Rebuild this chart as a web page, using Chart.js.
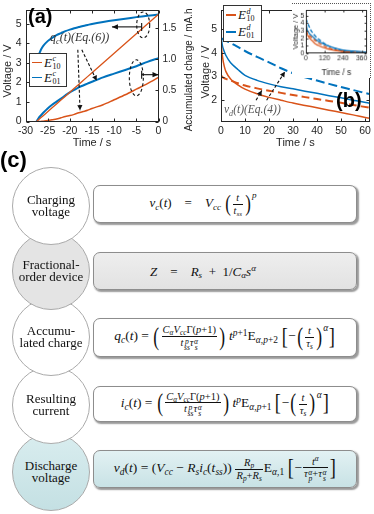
<!DOCTYPE html>
<html><head><meta charset="utf-8">
<script src="https://cdn.jsdelivr.net/npm/chart.js@4.4.1/dist/chart.umd.min.js"></script>
<style>
html,body{margin:0;padding:0;background:#fff;}
body{width:374px;height:514px;position:relative;overflow:hidden;font-family:'Liberation Sans',Arial,sans-serif;}
.abs{position:absolute;}
canvas{position:absolute;}
#ca{left:0;top:0;}
#cb{left:196px;top:0;}
#ci{left:292px;top:3px;background:#fff;border-top:1px dotted #555;border-right:1px dotted #555;box-sizing:border-box;}
.pl{font-family:'Liberation Sans',Arial,sans-serif;font-weight:bold;font-size:20px;line-height:20px;color:#000;}
.leg{border:1px solid #333;background:#fff;box-sizing:border-box;padding:1px 1px;display:flex;flex-direction:column;justify-content:space-around;}
.lrow{display:flex;align-items:center;height:14px;}
.lsw{display:inline-block;width:10px;height:1.6px;margin:0 2px 0 1px;}
.mE{font-family:'Liberation Serif',serif;font-size:13px;display:inline-flex;align-items:center;color:#111;}
.st{display:inline-flex;flex-direction:column;font-size:8px;line-height:7.5px;margin-left:0.5px;}
.ml{font-family:'Liberation Serif',serif;font-style:italic;white-space:nowrap;}
.ml sub{font-size:70%;}
.circ{position:absolute;left:12px;width:78px;height:78px;border-radius:50%;border:1px solid #aaa;box-sizing:border-box;display:flex;align-items:center;justify-content:center;text-align:center;font-family:'Liberation Serif',serif;font-size:13px;line-height:12px;color:#111;}
.box{position:absolute;left:93px;width:264px;border:1px solid #8d8d8d;border-radius:7px;box-sizing:border-box;box-shadow:1.5px 1.5px 1.5px rgba(0,0,0,0.4);display:flex;align-items:center;justify-content:center;background:#fff;}
.f{font-family:'Liberation Serif',serif;font-size:13px;white-space:nowrap;color:#111;line-height:13px;}
.f.big{font-size:13.5px;}
.f sub,.f sup{font-size:70%;line-height:0;position:relative;vertical-align:baseline;}
.f sub{top:0.3em;}
.f sup{top:-0.45em;}
.f sup.hi{top:-1em;}
.fr{display:inline-block;vertical-align:middle;text-align:center;font-size:78%;line-height:1.1;margin:0 1px;}
.fr>span{display:block;padding:0 1px;}
.fr>span:first-child{border-bottom:0.8px solid #111;}
.bp{display:inline-block;font-size:185%;line-height:0.8;vertical-align:-0.17em;transform:scaleX(0.7);font-weight:300;}
.bb{display:inline-block;font-size:170%;line-height:0.8;vertical-align:-0.14em;transform:scaleX(0.8);}
.ss{display:inline-flex;flex-direction:column;font-size:72%;line-height:0.8;vertical-align:0.3em;margin-left:0.5px;}
</style>
</head><body>
<canvas id="ca" width="196" height="152"></canvas>
<canvas id="cb" width="178" height="152"></canvas>
<canvas id="ci" width="79" height="75"></canvas>

<div class="abs pl" style="left:28px;top:6px;">(a)</div>
<div class="abs pl" style="left:336px;top:90px;">(b)</div>
<div class="abs pl" style="left:0px;top:149px;font-size:22px;line-height:22px;">(c)</div>

<div class="abs ml" style="left:50px;top:30px;font-size:12px;color:#333;">q<sub>c</sub>(t)(Eq.(6))</div>
<div class="abs ml" style="left:224px;top:103px;font-size:11.5px;color:#555;">v<sub>d</sub>(t)(Eq.(4))</div>

<div class="abs leg" style="left:29px;top:53px;width:38px;height:34px;">
 <div class="lrow"><span class="lsw" style="background:#D95319"></span><span class="mE"><i>E</i><span class="st"><i>c</i><span>10</span></span></span></div>
 <div class="lrow"><span class="lsw" style="background:#0072BD"></span><span class="mE"><i>E</i><span class="st"><i>c</i><span>01</span></span></span></div>
</div>
<div class="abs leg" style="left:223px;top:5px;width:39px;height:37px;">
 <div class="lrow"><span class="lsw" style="background:#D95319"></span><span class="mE"><i>E</i><span class="st"><i>d</i><span>10</span></span></span></div>
 <div class="lrow"><span class="lsw" style="background:#0072BD"></span><span class="mE"><i>E</i><span class="st"><i>d</i><span>01</span></span></span></div>
</div>

<!-- diagram (c) -->
<div class="circ" style="top:167px;z-index:5;background:#fff;">Charging<br>voltage</div>
<div class="circ" style="top:232px;z-index:4;background:#e4e4e4;">Fractional-<br>order device</div>
<div class="circ" style="top:298px;z-index:3;background:#fff;">Accumu-<br>lated charge</div>
<div class="circ" style="top:366px;z-index:2;background:#fff;">Resulting<br>current</div>
<div class="circ" style="top:433px;z-index:1;background:linear-gradient(#d9edef,#c4e0e3);">Discharge<br>voltage</div>

<div class="box" style="top:185px;height:38px;padding-right:44px;">
<span class="f"><i>v</i><sub><i>c</i></sub>(<i>t</i>)&emsp;=&emsp;<i>V</i><sub><i>cc</i></sub>&thinsp;<span class="bp">(</span><span class="fr"><span><i>t</i></span><span><i>t</i><sub><i>ss</i></sub></span></span><span class="bp">)</span><sup class="hi"><i>p</i></sup></span>
</div>
<div class="box" style="top:252px;height:38px;padding-right:44px;background:linear-gradient(#eeeeee,#e2e2e2);">
<span class="f"><i>Z</i>&emsp;=&emsp;<i>R</i><sub><i>s</i></sub>&ensp;+&ensp;1/<i>C</i><sub><i>α</i></sub><i>s</i><sup><i>α</i></sup></span>
</div>
<div class="box" style="top:318px;height:39px;">
<span class="f big"><i>q</i><sub><i>c</i></sub>(<i>t</i>) = <span class="bp">(</span><span class="fr"><span><i>C</i><sub><i>α</i></sub><i>V</i><sub><i>cc</i></sub>Γ(<i>p</i>+1)</span><span><i>t</i><span class="ss"><i>p</i><i>ss</i></span><i>τ</i><span class="ss"><i>α</i><i>s</i></span></span></span><span class="bp">)</span>&thinsp;<i>t</i><sup><i>p</i>+1</sup>E<sub><i>α</i>,<i>p</i>+2</sub>&thinsp;<span class="bb">[</span>−<span class="bp">(</span><span class="fr"><span><i>t</i></span><span><i>τ</i><sub><i>s</i></sub></span></span><span class="bp">)</span><sup class="hi"><i>α</i></sup><span class="bb">]</span></span>
</div>
<div class="box" style="top:386px;height:36px;">
<span class="f big"><i>i</i><sub><i>c</i></sub>(<i>t</i>) = <span class="bp">(</span><span class="fr"><span><i>C</i><sub><i>α</i></sub><i>V</i><sub><i>cc</i></sub>Γ(<i>p</i>+1)</span><span><i>t</i><span class="ss"><i>p</i><i>ss</i></span><i>τ</i><span class="ss"><i>α</i><i>s</i></span></span></span><span class="bp">)</span>&thinsp;<i>t</i><sup><i>p</i></sup>E<sub><i>α</i>,<i>p</i>+1</sub>&thinsp;<span class="bb">[</span>−<span class="bp">(</span><span class="fr"><span><i>t</i></span><span><i>τ</i><sub><i>s</i></sub></span></span><span class="bp">)</span><sup class="hi"><i>α</i></sup><span class="bb">]</span></span>
</div>
<div class="box" style="top:450px;height:38px;background:linear-gradient(#e2f1f3,#c8e2e5);">
<span class="f big"><i>v</i><sub><i>d</i></sub>(<i>t</i>) = (<i>V</i><sub><i>cc</i></sub> − <i>R</i><sub><i>s</i></sub><i>i</i><sub><i>c</i></sub>(<i>t</i><sub><i>ss</i></sub>))&thinsp;<span class="fr"><span><i>R</i><sub><i>p</i></sub></span><span><i>R</i><sub><i>p</i></sub>+<i>R</i><sub><i>s</i></sub></span></span>E<sub><i>α</i>,1</sub>&thinsp;<span class="bb">[</span>−<span class="fr"><span><i>t</i><sup><i>α</i></sup></span><span><i>τ</i><span class="ss"><i>α</i><i>p</i></span>+<i>τ</i><span class="ss"><i>α</i><i>s</i></span></span></span><span class="bb">]</span></span>
</div>

<script>
// ---------- DATA ----------
// (a) charging, time in s
const chargeTime   = [-27.5,-27,-26.5,-26,-25,-24,-23,-22,-21,-20,-19,-18,-17,-16,-15,-12.5,-10,-7.5,-5,-2.5,0];
const vChargeE10   = [0,0.1,0.2,0.3,0.5,0.7,0.9,1.1,1.3,1.5,1.7,1.9,2.1,2.3,2.5,3.0,3.5,4.0,4.5,5.0,5.5];
const vChargeE01   = [null,3.42,3.69,3.88,4.12,4.29,4.43,4.53,4.63,4.71,4.78,4.84,4.9,4.95,5.0,5.1,5.19,5.27,5.35,5.42,5.48];
const qChargeE10   = [0,0.001,0.002,0.004,0.017,0.03,0.04,0.06,0.08,0.095,0.115,0.14,0.16,0.18,0.21,0.27,0.35,0.43,0.52,0.61,0.71];
const qChargeE01   = [0,0.06,0.1,0.14,0.21,0.27,0.32,0.37,0.42,0.47,0.51,0.55,0.58,0.61,0.64,0.71,0.77,0.83,0.89,0.96,1.02];
const aTimeTicks   = [-30,-25,-20,-15,-10,-5,0];
const aVoltTicks   = [0,1,2,3,4,5];
const aChargeTicks = [0,0.5,1,1.5];

// (b) discharge, time in s
const dischargeTime = [0,0.5,1,2,4,7,10,15,20,25,30,35,40,45,50,55,62,75,90,120,150,180,240,300,360,390];
const vDisE10Meas   = [4.45,3.95,3.6,3.22,2.9,2.65,2.47,2.27,2.12,2.0,1.88,1.78,1.68,1.58,1.48,1.38,1.24,1.1,0.95,0.72,0.55,0.42,0.24,0.14,0.09,0.08];
const vDisE01Meas   = [4.75,4.35,4.15,3.9,3.58,3.3,3.05,2.84,2.69,2.57,2.48,2.38,2.29,2.19,2.1,2.0,1.87,1.68,1.5,1.2,0.95,0.75,0.45,0.3,0.2,0.17];
const vDisE10Model  = [3.05,2.98,2.95,2.9,2.83,2.72,2.62,2.5,2.4,2.31,2.22,2.13,2.05,1.97,1.89,1.8,1.68,1.48,1.28,0.95,0.7,0.5,0.25,0.12,0.06,0.05];
const vDisE01Model  = [4.62,4.6,4.57,4.52,4.42,4.25,4.08,3.83,3.6,3.35,3.14,2.97,2.83,2.69,2.56,2.43,2.26,2.0,1.75,1.3,0.95,0.7,0.38,0.2,0.12,0.1];
const bTimeTicks    = [0,10,20,30,40,50,60];
const bVoltTicks    = [2,3,4,5];
const insetTimeTicks= [0,120,240,360];
const insetVoltTicks= [0,1,2,3,4,5];

// ---------- STYLE ----------
const ORANGE='#D95319', BLUE='#0072BD', AX='#262626';
const SANS="'Liberation Sans', Arial, sans-serif";

function pts(xs, ys){ const o=[]; xs.forEach((x,i)=>{ if(ys[i]!==null) o.push({x:x,y:ys[i]}); }); return o; }
function scale(o){
  return {
    type:'linear', position:o.position, min:o.min, max:o.max,
    grid:{display:false, drawTicks:false}, border:{display:false},
    ticks:{font:{family:SANS,size:o.fs||10.5}, color:AX, padding:(o.pad!==undefined?o.pad:4), maxRotation:0, autoSkip:false},
    title:{display:!!o.title, text:o.title||'', font:{family:SANS,size:o.tfs||11}, color:AX, padding:{top:0,bottom:o.tpad!==undefined?o.tpad:2}},
    afterBuildTicks:function(s){ s.ticks = o.ticks.map(v=>({value:v})); },
    afterFit:function(s){ if(s.isHorizontal()) s.height=o.size; else s.width=o.size; }
  };
}
function line(ctx,x1,y1,x2,y2){ ctx.beginPath(); ctx.moveTo(x1,y1); ctx.lineTo(x2,y2); ctx.stroke(); }
const framePlugin = {
  id:'frame',
  afterDatasetsDraw(chart, args, opts){
    const ctx=chart.ctx, a=chart.chartArea, tl=opts.tl||3;
    ctx.save(); ctx.strokeStyle=AX; ctx.lineWidth=1; ctx.setLineDash([]);
    const L=Math.round(a.left)+0.5, R=Math.round(a.right)-0.5, T=Math.round(a.top)+0.5, B=Math.round(a.bottom)-0.5;
    ctx.strokeRect(L,T,R-L,B-T);
    const hasRight = Object.values(chart.scales).some(s=>s.position==='right');
    Object.values(chart.scales).forEach(s=>{
      s.ticks.forEach(t=>{
        const p=Math.round(s.getPixelForValue(t.value))+0.5;
        if(s.isHorizontal()){ line(ctx,p,B,p,B-tl); line(ctx,p,T,p,T+tl); }
        else if(s.position==='left'){ line(ctx,L,p,L+tl,p); if(!hasRight) line(ctx,R,p,R-tl,p); }
        else { line(ctx,R,p,R-tl,p); }
      });
    });
    ctx.restore();
  }
};
const vTitles = {
  id:'vtitles',
  afterDraw(chart, args, opts){
    const ctx=chart.ctx, a=chart.chartArea;
    (opts.items||[]).forEach(it=>{
      ctx.save(); ctx.font=it.size+'px '+SANS; ctx.fillStyle=AX; ctx.textAlign='center'; ctx.textBaseline='middle';
      ctx.translate(it.x,(a.top+a.bottom)/2+(it.dy||0)); ctx.rotate(-Math.PI/2); ctx.fillText(it.text,0,0); ctx.restore();
    });
  }
};
function arrow(ctx,x1,y1,x2,y2,dashed,head){
  ctx.save(); ctx.setLineDash(dashed?[3,2]:[]); line(ctx,x1,y1,x2,y2); ctx.setLineDash([]);
  const ang=Math.atan2(y2-y1,x2-x1), h=head||5, w=2.6;
  ctx.beginPath(); ctx.moveTo(x2,y2);
  ctx.lineTo(x2-h*Math.cos(ang)+w*Math.sin(ang), y2-h*Math.sin(ang)-w*Math.cos(ang));
  ctx.lineTo(x2-h*Math.cos(ang)-w*Math.sin(ang), y2-h*Math.sin(ang)+w*Math.cos(ang));
  ctx.closePath(); ctx.fill(); ctx.restore();
}
// annotation anchors in data units (time, volts)
const ANN_A = {
  dashed:[[-18.2,3.68,-17.7,0.58],[-17.3,3.68,-13.95,2.1]],
  ellipses:[{t:-3.45,v:4.95,rx:6.5,ry:13},{t:-5.0,v:2.24,rx:7,ry:18}],
  left:[-3.8,4.85,-10.5,4.85],
  right:[-3.8,2.4,0,2.4]
};
const ANN_B = { dashed:[[14.6,2.0,17.0,2.41],[19.0,2.0,26.6,3.2]] };
const annPlugin = {
  id:'ann',
  afterDatasetsDraw(chart, args, opts){
    const ctx=chart.ctx, X=chart.scales.x, Y=chart.scales.y;
    const px=t=>X.getPixelForValue(t), py=v=>Y.getPixelForValue(v);
    const A=opts.def; if(!A) return;
    ctx.save(); ctx.strokeStyle='#111'; ctx.fillStyle='#111'; ctx.lineWidth=1.1;
    (A.dashed||[]).forEach(d=>arrow(ctx,px(d[0]),py(d[1]),px(d[2]),py(d[3]),true,5));
    (A.ellipses||[]).forEach(e=>{ ctx.setLineDash([3,2.5]); ctx.beginPath(); ctx.ellipse(px(e.t),py(e.v),e.rx,e.ry,0,0,Math.PI*2); ctx.stroke(); });
    ctx.setLineDash([]);
    if(A.left){ const d=A.left; line(ctx,px(d[0]),py(d[1])-4,px(d[0]),py(d[1])+4); arrow(ctx,px(d[0]),py(d[1]),px(d[2]),py(d[3]),false,6); }
    if(A.right){ const d=A.right; line(ctx,px(d[0]),py(d[1])-4,px(d[0]),py(d[1])+4); arrow(ctx,px(d[0]),py(d[1]),px(d[2]),py(d[3]),false,6); }
    ctx.restore();
  }
};
const common = { responsive:false, animation:false, events:[], plugins:{legend:{display:false}, tooltip:{enabled:false}} };

// ---------- CHART (a) ----------
new Chart(document.getElementById('ca'), {
  type:'line',
  data:{ datasets:[
    {data:pts(chargeTime,vChargeE10), yAxisID:'y', borderColor:ORANGE, borderWidth:1.3, pointRadius:0, tension:0},
    {data:pts(chargeTime,qChargeE10), yAxisID:'y2', borderColor:ORANGE, borderWidth:1.5, pointRadius:0, tension:0.3},
    {data:pts(chargeTime,vChargeE01), yAxisID:'y', borderColor:BLUE, borderWidth:2, pointRadius:0, tension:0.3},
    {data:pts(chargeTime,qChargeE01), yAxisID:'y2', borderColor:BLUE, borderWidth:2, pointRadius:0, tension:0.3}
  ]},
  options:Object.assign({}, common, {
    layout:{padding:{top:3,right:0,left:0,bottom:0}},
    scales:{
      x: scale({position:'bottom',min:-30,max:0,ticks:aTimeTicks,size:30.5,title:'Time / s',pad:3}),
      y: scale({position:'left',min:0,max:5.7,ticks:aVoltTicks,size:25.5,pad:4}),
      y2:scale({position:'right',min:0,max:1.79,ticks:aChargeTicks,size:37.5,pad:4,fs:10})
    },
    plugins:Object.assign({}, common.plugins, {
      vtitles:{items:[{text:'Voltage / V',x:8,size:11,dy:5},{text:'Accumulated charge / mA.h',x:189,size:10,dy:4}]},
      ann:{def:ANN_A}, frame:{tl:3}
    })
  }),
  plugins:[framePlugin, vTitles, annPlugin]
});

// ---------- CHART (b) ----------
new Chart(document.getElementById('cb'), {
  type:'line',
  data:{ datasets:[
    {data:pts(dischargeTime,vDisE10Model), borderColor:ORANGE, borderWidth:2, borderDash:[8,4], pointRadius:0, tension:0.3},
    {data:pts(dischargeTime,vDisE01Model), borderColor:BLUE, borderWidth:2, borderDash:[9,4], pointRadius:0, tension:0.3},
    {data:pts(dischargeTime,vDisE10Meas), borderColor:ORANGE, borderWidth:1.5, pointRadius:0, tension:0.3},
    {data:pts(dischargeTime,vDisE01Meas), borderColor:BLUE, borderWidth:1.5, pointRadius:0, tension:0.3}
  ]},
  options:Object.assign({}, common, {
    layout:{padding:{top:3,right:4,left:0,bottom:0}},
    scales:{
      x: scale({position:'bottom',min:0,max:62,ticks:bTimeTicks,size:30.5,title:'Time / s',pad:3}),
      y: scale({position:'left',min:1.1,max:5.8,ticks:bVoltTicks,size:25,pad:4})
    },
    plugins:Object.assign({}, common.plugins, {
      vtitles:{items:[{text:'Voltage / V',x:10,size:11,dy:6}]},
      ann:{def:ANN_B}, frame:{tl:3}
    })
  }),
  plugins:[framePlugin, vTitles, annPlugin]
});

// ---------- INSET ----------
new Chart(document.getElementById('ci'), {
  type:'line',
  data:{ datasets:[
    {data:pts(dischargeTime,vDisE10Model), borderColor:ORANGE, borderWidth:1.3, borderDash:[4,2], pointRadius:0, tension:0.3},
    {data:pts(dischargeTime,vDisE01Model), borderColor:BLUE, borderWidth:1.3, borderDash:[4,2], pointRadius:0, tension:0.3},
    {data:pts(dischargeTime,vDisE10Meas), borderColor:ORANGE, borderWidth:1.2, pointRadius:0, tension:0.3},
    {data:pts(dischargeTime,vDisE01Meas), borderColor:BLUE, borderWidth:1.2, pointRadius:0, tension:0.3}
  ]},
  options:Object.assign({}, common, {
    layout:{padding:{top:3,right:3,left:0,bottom:0}},
    scales:{
      x: scale({position:'bottom',min:0,max:395,ticks:insetTimeTicks,size:25,title:'Time / s',pad:1,fs:7,tfs:8.5,tpad:0}),
      y: scale({position:'left',min:0,max:5.8,ticks:insetVoltTicks,size:14,pad:1.5,fs:7})
    },
    plugins:Object.assign({}, common.plugins, {
      vtitles:{items:[{text:'Voltage / V',x:3.5,size:7.5}]}, frame:{tl:2}
    })
  }),
  plugins:[framePlugin, vTitles]
});
</script>
</body></html>
